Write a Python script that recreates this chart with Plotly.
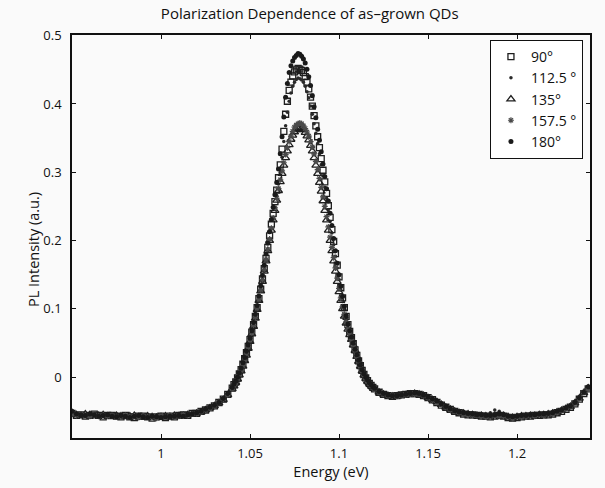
import plotly.graph_objects as go

energy = [0.95, 0.9525, 0.955, 0.9575, 0.96, 0.9625, 0.965, 0.9675, 0.97, 0.9725,
          0.975, 0.9775, 0.98, 0.9825, 0.985, 0.9875, 0.99, 0.9925, 0.995, 0.9975,
          1.0, 1.0025, 1.005, 1.0075, 1.01, 1.0125, 1.015, 1.0175, 1.02, 1.0225,
          1.025, 1.0275, 1.03, 1.0325, 1.035, 1.0375,
          1.040, 1.041, 1.042, 1.043, 1.044, 1.045, 1.046, 1.047, 1.048, 1.049,
          1.050, 1.051, 1.052, 1.053, 1.054, 1.055, 1.056, 1.057, 1.058, 1.059,
          1.060, 1.061, 1.062, 1.063, 1.064, 1.065, 1.066, 1.067, 1.068, 1.069,
          1.070, 1.071, 1.072, 1.073, 1.074, 1.075, 1.076, 1.077, 1.078, 1.079,
          1.080, 1.081, 1.082, 1.083, 1.084, 1.085, 1.086, 1.087, 1.088, 1.089,
          1.090, 1.091, 1.092, 1.093, 1.094, 1.095, 1.096, 1.097, 1.098, 1.099,
          1.100, 1.101, 1.102, 1.103, 1.104, 1.105, 1.106, 1.107, 1.108, 1.109,
          1.110, 1.111, 1.112, 1.113, 1.114, 1.115, 1.116, 1.117, 1.118, 1.119,
          1.120,
          1.1225, 1.125, 1.1275, 1.13, 1.1325, 1.135, 1.1375, 1.14, 1.1425, 1.145, 1.1475,
          1.15, 1.1525, 1.155, 1.1575, 1.16, 1.1625, 1.165, 1.1675, 1.17, 1.1725,
          1.175, 1.1775, 1.18, 1.1825, 1.185, 1.1875, 1.19, 1.1925, 1.195, 1.1975,
          1.2, 1.2025, 1.205, 1.2075, 1.21, 1.2125, 1.215, 1.2175, 1.22, 1.2225,
          1.225, 1.2275, 1.23, 1.2325, 1.235, 1.2375, 1.24]

pl_90 = [-0.053, -0.056, -0.055, -0.057, -0.056, -0.054, -0.056, -0.058, -0.056, -0.056,
         -0.057, -0.058, -0.056, -0.058, -0.059, -0.057, -0.057, -0.058, -0.060, -0.058,
         -0.057, -0.059, -0.057, -0.058, -0.056, -0.055, -0.056, -0.053, -0.053, -0.050,
         -0.048, -0.045, -0.042, -0.037, -0.032, -0.025,
         -0.016, -0.011, -0.007, -0.001, 0.005, 0.011, 0.019, 0.027, 0.036, 0.045,
         0.055, 0.066, 0.077, 0.089, 0.102, 0.115, 0.129, 0.144, 0.159, 0.174,
         0.190, 0.207, 0.224, 0.240, 0.257, 0.274, 0.292, 0.311, 0.334, 0.360,
         0.385, 0.404, 0.420, 0.432, 0.441, 0.447, 0.450, 0.452, 0.451, 0.449,
         0.446, 0.440, 0.432, 0.422, 0.410, 0.397, 0.383, 0.368, 0.352, 0.336,
         0.320, 0.303, 0.286, 0.269, 0.251, 0.234, 0.216, 0.199, 0.181, 0.164,
         0.147, 0.131, 0.116, 0.102, 0.089, 0.077, 0.067, 0.058, 0.049, 0.040,
         0.032, 0.024, 0.017, 0.010, 0.004, -0.001, -0.005, -0.009, -0.012, -0.015,
         -0.017,
         -0.022, -0.025, -0.027, -0.028, -0.027, -0.026, -0.025, -0.024, -0.024, -0.025, -0.027,
         -0.030, -0.033, -0.037, -0.041, -0.044, -0.047, -0.050, -0.052, -0.054, -0.055,
         -0.055, -0.056, -0.057, -0.057, -0.058, -0.057, -0.056, -0.057, -0.059, -0.060,
         -0.059, -0.058, -0.057, -0.057, -0.056, -0.056, -0.055, -0.055, -0.054, -0.052,
         -0.050, -0.047, -0.044, -0.039, -0.032, -0.024, -0.017]

pl_112 = [-0.051, -0.053, -0.057, -0.055, -0.056, -0.056, -0.055, -0.057, -0.058, -0.057,
          -0.055, -0.058, -0.057, -0.056, -0.058, -0.059, -0.058, -0.056, -0.059, -0.057,
          -0.058, -0.058, -0.059, -0.057, -0.058, -0.056, -0.055, -0.055, -0.052, -0.051,
          -0.048, -0.045, -0.042, -0.038, -0.032, -0.025,
          -0.016, -0.012, -0.007, -0.002, 0.004, 0.010, 0.018, 0.026, 0.035, 0.044,
          0.054, 0.065, 0.076, 0.087, 0.099, 0.112, 0.126, 0.140, 0.155, 0.170,
          0.185, 0.201, 0.217, 0.233, 0.249, 0.266, 0.283, 0.300, 0.322, 0.345,
          0.368, 0.388, 0.404, 0.416, 0.426, 0.432, 0.436, 0.438, 0.437, 0.435,
          0.432, 0.426, 0.418, 0.409, 0.397, 0.385, 0.371, 0.357, 0.342, 0.327,
          0.311, 0.295, 0.278, 0.262, 0.245, 0.228, 0.211, 0.194, 0.177, 0.160,
          0.143, 0.128, 0.113, 0.100, 0.087, 0.075, 0.066, 0.057, 0.048, 0.039,
          0.031, 0.024, 0.017, 0.010, 0.004, -0.001, -0.005, -0.009, -0.012, -0.015,
          -0.017,
          -0.021, -0.024, -0.026, -0.027, -0.028, -0.027, -0.026, -0.025, -0.025, -0.026, -0.028,
          -0.031, -0.034, -0.037, -0.040, -0.043, -0.046, -0.049, -0.051, -0.053, -0.054,
          -0.055, -0.055, -0.056, -0.056, -0.052, -0.048, -0.050, -0.055, -0.057, -0.058,
          -0.058, -0.057, -0.056, -0.056, -0.055, -0.055, -0.054, -0.054, -0.052, -0.051,
          -0.048, -0.046, -0.042, -0.038, -0.030, -0.023, -0.015]

pl_135 = [-0.052, -0.055, -0.056, -0.054, -0.055, -0.057, -0.056, -0.055, -0.057, -0.058,
          -0.056, -0.057, -0.058, -0.057, -0.056, -0.058, -0.059, -0.057, -0.058, -0.059,
          -0.058, -0.057, -0.058, -0.056, -0.057, -0.056, -0.055, -0.054, -0.053, -0.051,
          -0.048, -0.045, -0.042, -0.038, -0.033, -0.026,
          -0.017, -0.013, -0.008, -0.003, 0.003, 0.009, 0.016, 0.024, 0.032, 0.042,
          0.052, 0.063, 0.074, 0.086, 0.099, 0.112, 0.126, 0.140, 0.155, 0.170,
          0.185, 0.200, 0.215, 0.230, 0.244, 0.259, 0.273, 0.286, 0.298, 0.310,
          0.321, 0.331, 0.340, 0.348, 0.354, 0.359, 0.362, 0.364, 0.365, 0.364,
          0.362, 0.358, 0.353, 0.347, 0.339, 0.331, 0.321, 0.310, 0.298, 0.285,
          0.272, 0.258, 0.244, 0.230, 0.215, 0.200, 0.185, 0.170, 0.155, 0.140,
          0.125, 0.112, 0.100, 0.089, 0.079, 0.070, 0.062, 0.055, 0.047, 0.039,
          0.030, 0.023, 0.016, 0.009, 0.003, -0.002, -0.006, -0.009, -0.012, -0.015,
          -0.017,
          -0.022, -0.025, -0.027, -0.028, -0.028, -0.027, -0.026, -0.025, -0.024, -0.025, -0.027,
          -0.030, -0.033, -0.036, -0.040, -0.044, -0.047, -0.050, -0.052, -0.053, -0.054,
          -0.055, -0.056, -0.056, -0.057, -0.057, -0.056, -0.055, -0.056, -0.058, -0.059,
          -0.058, -0.057, -0.057, -0.056, -0.056, -0.055, -0.055, -0.054, -0.053, -0.051,
          -0.049, -0.046, -0.043, -0.038, -0.031, -0.023, -0.016]

pl_157 = [-0.054, -0.056, -0.054, -0.056, -0.057, -0.055, -0.057, -0.056, -0.057, -0.056,
          -0.058, -0.057, -0.056, -0.058, -0.057, -0.059, -0.057, -0.058, -0.058, -0.060,
          -0.057, -0.058, -0.056, -0.058, -0.057, -0.055, -0.056, -0.054, -0.053, -0.051,
          -0.048, -0.045, -0.042, -0.037, -0.032, -0.026,
          -0.017, -0.012, -0.008, -0.002, 0.004, 0.010, 0.017, 0.025, 0.034, 0.044,
          0.054, 0.065, 0.076, 0.088, 0.101, 0.114, 0.128, 0.143, 0.158, 0.172,
          0.187, 0.202, 0.218, 0.233, 0.248, 0.262, 0.276, 0.289, 0.302, 0.314,
          0.326, 0.336, 0.345, 0.353, 0.360, 0.366, 0.369, 0.371, 0.372, 0.371,
          0.368, 0.364, 0.359, 0.353, 0.345, 0.337, 0.327, 0.316, 0.304, 0.291,
          0.278, 0.264, 0.250, 0.235, 0.220, 0.205, 0.190, 0.175, 0.160, 0.145,
          0.130, 0.116, 0.103, 0.092, 0.081, 0.070, 0.063, 0.055, 0.047, 0.039,
          0.030, 0.023, 0.016, 0.009, 0.003, -0.002, -0.006, -0.009, -0.012, -0.015,
          -0.017,
          -0.022, -0.025, -0.027, -0.027, -0.028, -0.027, -0.026, -0.025, -0.025, -0.025, -0.027,
          -0.030, -0.034, -0.037, -0.040, -0.044, -0.048, -0.050, -0.052, -0.054, -0.055,
          -0.056, -0.056, -0.057, -0.058, -0.057, -0.056, -0.057, -0.057, -0.058, -0.060,
          -0.058, -0.058, -0.057, -0.056, -0.057, -0.055, -0.056, -0.054, -0.054, -0.052,
          -0.049, -0.047, -0.043, -0.038, -0.031, -0.022, -0.017]

pl_180 = [-0.050, -0.054, -0.055, -0.056, -0.054, -0.055, -0.057, -0.056, -0.055, -0.057,
          -0.058, -0.056, -0.057, -0.059, -0.057, -0.056, -0.058, -0.059, -0.057, -0.058,
          -0.059, -0.058, -0.057, -0.057, -0.056, -0.057, -0.055, -0.054, -0.052, -0.050,
          -0.047, -0.044, -0.041, -0.037, -0.031, -0.024,
          -0.015, -0.010, -0.006, 0.000, 0.006, 0.013, 0.021, 0.029, 0.038, 0.047,
          0.057, 0.068, 0.080, 0.092, 0.105, 0.119, 0.134, 0.149, 0.164, 0.180,
          0.196, 0.213, 0.231, 0.249, 0.267, 0.285, 0.305, 0.327, 0.352, 0.381,
          0.410, 0.430, 0.446, 0.456, 0.463, 0.468, 0.471, 0.474, 0.473, 0.470,
          0.466, 0.460, 0.451, 0.440, 0.427, 0.412, 0.396, 0.380, 0.363, 0.347,
          0.330, 0.312, 0.294, 0.276, 0.258, 0.240, 0.222, 0.203, 0.185, 0.167,
          0.150, 0.133, 0.118, 0.104, 0.090, 0.078, 0.068, 0.059, 0.050, 0.041,
          0.033, 0.025, 0.018, 0.011, 0.005, 0.000, -0.004, -0.008, -0.011, -0.014,
          -0.016,
          -0.021, -0.024, -0.026, -0.027, -0.027, -0.026, -0.025, -0.024, -0.023, -0.024, -0.026,
          -0.029, -0.032, -0.035, -0.039, -0.043, -0.046, -0.049, -0.051, -0.052, -0.053,
          -0.054, -0.055, -0.055, -0.056, -0.056, -0.055, -0.054, -0.055, -0.057, -0.058,
          -0.057, -0.056, -0.056, -0.055, -0.055, -0.054, -0.054, -0.053, -0.052, -0.050,
          -0.048, -0.045, -0.042, -0.037, -0.030, -0.022, -0.014]

series_names = ["90°", "112.5 °", "135°", "157.5 °", "180°"]
x_tickvals = [1.0, 1.05, 1.1, 1.15, 1.2]
x_ticktext = ["1", "1.05", "1.1", "1.15", "1.2"]
y_tickvals = [0, 0.1, 0.2, 0.3, 0.4, 0.5]
y_ticktext = ["0", "0.1", "0.2", "0.3", "0.4", "0.5"]

ink = "#111111"
font_family = "Open Sans, Noto Sans, sans-serif"

styles = [
    dict(symbol="square-open", size=6, color="#1e1e1e", line=dict(width=1.3, color="#1e1e1e")),
    dict(symbol="circle", size=3.5, color="#2a2a2a"),
    dict(symbol="triangle-up-open", size=7, color="#1e1e1e", line=dict(width=1.3, color="#1e1e1e")),
    dict(symbol="asterisk-open", size=5, color="#4a4a4a", line=dict(width=1.2, color="#4a4a4a")),
    dict(symbol="circle", size=5, color="#1a1a1a"),
]
data = [pl_90, pl_112, pl_135, pl_157, pl_180]

fig = go.Figure()
for name, ys, st in zip(series_names, data, styles):
    fig.add_trace(go.Scatter(x=energy, y=ys, mode="markers", name=name, marker=st))

fig.update_layout(
    width=605, height=488,
    margin=dict(l=72, r=15, t=35, b=50),
    paper_bgcolor="#fafafa",
    plot_bgcolor="#fafafa",
    font=dict(family=font_family, color=ink, size=12),
    title=dict(text="Polarization Dependence of as\u2013grown QDs", x=0.512, xanchor="center",
               y=0.972, yanchor="middle", font=dict(size=15, color=ink)),
    showlegend=True,
    legend=dict(x=0.986, y=0.988, xanchor="right", yanchor="top",
                bgcolor="#ffffff", bordercolor=ink, borderwidth=1.2,
                font=dict(size=14, color=ink), itemwidth=30, tracegroupgap=0),
    annotations=[
        dict(text="PL Intensity (a.u.)", xref="paper", yref="paper", textangle=-90,
             x=-(72 - 33) / 518, y=(438 - 250) / 403, xanchor="center", yanchor="middle",
             showarrow=False, font=dict(size=14.5, color=ink)),
    ],
)
fig.update_xaxes(range=[0.95, 1.241], tickvals=x_tickvals, ticktext=x_ticktext,
                 ticks="inside", ticklen=4, tickwidth=1.2, tickcolor=ink,
                 showline=True, linewidth=1.5, linecolor=ink, mirror="allticks",
                 showgrid=False, zeroline=False, ticklabelstandoff=3,
                 title=dict(text="Energy (eV)", standoff=2, font=dict(size=14.5)),
                 tickfont=dict(size=13))
fig.update_yaxes(range=[-0.089, 0.501], tickvals=y_tickvals, ticktext=y_ticktext,
                 ticks="inside", ticklen=4, tickwidth=1.2, tickcolor=ink,
                 showline=True, linewidth=1.5, linecolor=ink, mirror="allticks",
                 showgrid=False, zeroline=False, ticklabelstandoff=6,
                 tickfont=dict(size=13))

fig.write_html("out.html", config={"displayModeBar": False},
               post_script="document.body.style.margin='0';document.body.style.overflow='hidden';")
